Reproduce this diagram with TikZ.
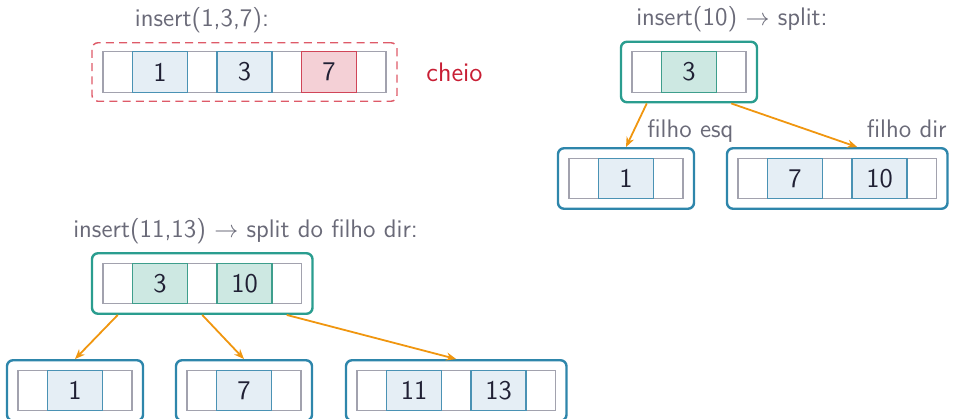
\documentclass[tikz,border=0pt]{standalone}
\usepackage{fontspec}
\usetikzlibrary{fit,calc,arrows.meta}

\definecolor{labelgray}{HTML}{6A6A78}
\definecolor{digitink}{HTML}{202034}
\definecolor{ptrline}{HTML}{A2A2AE}
\definecolor{leafblue}{HTML}{2E86AB}
\definecolor{keyfill}{HTML}{E5EEF5}
\definecolor{keyline}{HTML}{4A92B4}
\definecolor{rootteal}{HTML}{2A9D8F}
\definecolor{tealfill}{HTML}{CDE8E2}
\definecolor{tealline}{HTML}{3E9E8C}
\definecolor{fullfill}{HTML}{F4D0D6}
\definecolor{fullline}{HTML}{D04558}
\definecolor{dashred}{HTML}{DE5A68}
\definecolor{fullred}{HTML}{C81E34}
\definecolor{edgeorange}{HTML}{F0960F}

\tikzset{
  cell/.style={draw=ptrline, fill=white, line width=0.7pt,
    minimum height=20.25pt, inner sep=0pt, outer sep=0pt},
  ptrcell/.style={cell, minimum width=14.75pt},
  keycell/.style={cell, minimum width=27.5pt, fill=keyfill, draw=keyline,
    text=digitink, font=\sffamily\fontsize{13.5}{16}\selectfont},
  rootkey/.style={keycell, fill=tealfill, draw=tealline},
  fullkey/.style={keycell, fill=fullfill, draw=fullline},
  leafbox/.style={draw=leafblue, line width=1.2pt, rounded corners=3pt,
    inner xsep=5.5pt, inner ysep=5pt},
  rootbox/.style={leafbox, draw=rootteal},
  fullbox/.style={draw=dashred, line width=0.7pt, rounded corners=3pt,
    dash pattern=on 4pt off 2.6pt, inner xsep=5.5pt, inner ysep=4.5pt},
  caption/.style={text=labelgray, inner sep=0pt,
    font=\sffamily\fontsize{12.7}{15}\selectfont},
  edge/.style={draw=edgeorange, line width=0.9pt,
    -{Stealth[length=5pt,width=4pt]}},
}

\begin{document}
\begin{tikzpicture}[x=0.5pt, y=-0.5pt]
\useasboundingbox (0,0) rectangle (953,418);

% ---------- full leaf: insert(1,3,7) ----------
\node[caption, anchor=base] (t1) at (202,26) {insert(1,3,7):};
\foreach \i in {0,...,3} \node[ptrcell] (ap\i) at (117.75+\i*84.5,72) {};
\node[keycell] (ak1) at (160,72) {1};
\node[keycell] (ak2) at (244.5,72) {3};
\node[fullkey] (ak3) at (329,72) {7};
\node[fullbox, fit=(ap0)(ap3)] (abox) {};
\node[caption, text=fullred, anchor=base,
  font=\sffamily\fontsize{13.4}{16}\selectfont] (full) at (454.5,81) {cheio};

% ---------- insert(10): split into two leaves ----------
\node[caption, anchor=base] (t2) at (732,25) {insert(10) $\rightarrow$ split:};
% root
\foreach \i in {0,1} \node[ptrcell] (bp\i) at (646.75+\i*84.5,72) {};
\node[rootkey] (bk1) at (689,72) {3};
\node[rootbox, fit=(bp0)(bp1)] (bbox) {};
% left child
\foreach \i in {0,1} \node[ptrcell] (cp\i) at (583.75+\i*84.5,178.5) {};
\node[keycell] (ck1) at (626,178.5) {1};
\node[leafbox, fit=(cp0)(cp1)] (cbox) {};
% right child
\foreach \i in {0,1,2} \node[ptrcell] (dp\i) at (752.75+\i*84.5,178.5) {};
\node[keycell] (dk1) at (795,178.5) {7};
\node[keycell] (dk2) at (879.5,178.5) {10};
\node[leafbox, fit=(dp0)(dp2)] (dbox) {};

\draw[edge] (bp0 |- bbox.south) -- (cbox.north);
\draw[edge] (bp1 |- bbox.south) -- ([xshift=10pt]dbox.north);
\node[caption, anchor=base west] (lesq) at (647,137) {filho esq};
\node[caption, anchor=base east] (ldir) at (947,137) {filho dir};

% ---------- insert(11,13): split of the right child ----------
\node[caption, anchor=base west] (t3) at (73,237)
  {insert(11,13) $\rightarrow$ split do filho dir:};
% root
\foreach \i in {0,1,2} \node[ptrcell] (ep\i) at (117.75+\i*84.5,283.5) {};
\node[rootkey] (ek1) at (160,283.5) {3};
\node[rootkey] (ek2) at (244.5,283.5) {10};
\node[rootbox, fit=(ep0)(ep2)] (ebox) {};
% leaves
\foreach \i in {0,1} \node[ptrcell] (fp\i) at (32.75+\i*84.5,390.5) {};
\node[keycell] (fk1) at (75,390.5) {1};
\node[leafbox, fit=(fp0)(fp1)] (fbox) {};

\foreach \i in {0,1} \node[ptrcell] (gp\i) at (201.75+\i*84.5,390.5) {};
\node[keycell] (gk1) at (244,390.5) {7};
\node[leafbox, fit=(gp0)(gp1)] (gbox) {};

\foreach \i in {0,1,2} \node[ptrcell] (hp\i) at (371.75+\i*84.5,390.5) {};
\node[keycell] (hk1) at (414,390.5) {11};
\node[keycell] (hk2) at (498.5,390.5) {13};
\node[leafbox, fit=(hp0)(hp2)] (hbox) {};

\draw[edge] (ep0 |- ebox.south) -- (fbox.north);
\draw[edge] (ep1 |- ebox.south) -- (gbox.north);
\draw[edge] (ep2 |- ebox.south) -- (hbox.north);
\end{tikzpicture}
\end{document}
